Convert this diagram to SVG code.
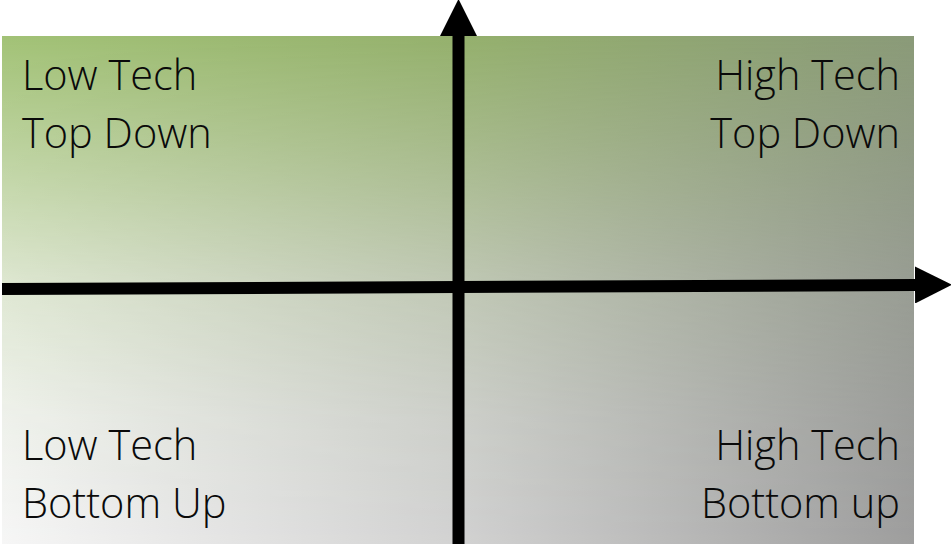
<svg xmlns="http://www.w3.org/2000/svg" width="951" height="544" viewBox="0 0 951 544">
  <style>
    .lbl { font-family: "Open Sans", "Liberation Sans", sans-serif; font-weight: 300; font-size: 41.5px; fill: #0a0a0a; }
    .r { text-anchor: end; }
    .axis { stroke: #000000; stroke-width: 12; fill: none; }
  </style>
  <defs>
    <linearGradient id="gBottom" x1="0" y1="0" x2="1" y2="0">
      <stop offset="0" stop-color="#f6f6f6"/>
      <stop offset="0.5" stop-color="#d2d2d2"/>
      <stop offset="1" stop-color="#9e9e9e"/>
    </linearGradient>
    <linearGradient id="gTop" x1="0" y1="0" x2="1" y2="0">
      <stop offset="0" stop-color="#a2c276"/>
      <stop offset="0.5" stop-color="#94b06c"/>
      <stop offset="1" stop-color="#8a9a78"/>
    </linearGradient>
    <linearGradient id="gMask" x1="0" y1="0" x2="0" y2="1">
      <stop offset="0" stop-color="#ffffff" stop-opacity="1"/>
      <stop offset="0.2" stop-color="#ffffff" stop-opacity="0.72"/>
      <stop offset="0.5" stop-color="#ffffff" stop-opacity="0.27"/>
      <stop offset="0.75" stop-color="#ffffff" stop-opacity="0.08"/>
      <stop offset="1" stop-color="#ffffff" stop-opacity="0"/>
    </linearGradient>
    <mask id="fade" maskUnits="userSpaceOnUse" x="0" y="0" width="951" height="544">
      <rect x="2" y="36" width="912" height="508" fill="url(#gMask)"/>
    </mask>
    <marker id="arrow" markerUnits="userSpaceOnUse" markerWidth="37" markerHeight="37" viewBox="0 0 36 36" refX="0" refY="18" orient="auto">
      <path d="M0,0 L36,18 L0,36 Z" fill="#000000"/>
    </marker>
  </defs>

  <g id="background">
    <rect x="2" y="36" width="912" height="508" fill="url(#gBottom)"/>
    <rect x="2" y="36" width="912" height="508" fill="url(#gTop)" mask="url(#fade)"/>
  </g>

  <g id="connectors">
    <line class="axis" x1="458.5" y1="544" x2="458.5" y2="36" marker-end="url(#arrow)"/>
    <line class="axis" x1="2" y1="289" x2="915" y2="285" marker-end="url(#arrow)"/>
  </g>

  <g id="low-tech-top-down">
    <text class="lbl" x="22" y="90">Low Tech</text>
    <text class="lbl" x="22" y="148">Top Down</text>
  </g>
  <g id="high-tech-top-down">
    <text class="lbl r" x="900" y="90">High Tech</text>
    <text class="lbl r" x="900" y="148">Top Down</text>
  </g>
  <g id="low-tech-bottom-up">
    <text class="lbl" x="22" y="460">Low Tech</text>
    <text class="lbl" x="22" y="518">Bottom Up</text>
  </g>
  <g id="high-tech-bottom-up">
    <text class="lbl r" x="900" y="460">High Tech</text>
    <text class="lbl r" x="900" y="518">Bottom up</text>
  </g>
</svg>
